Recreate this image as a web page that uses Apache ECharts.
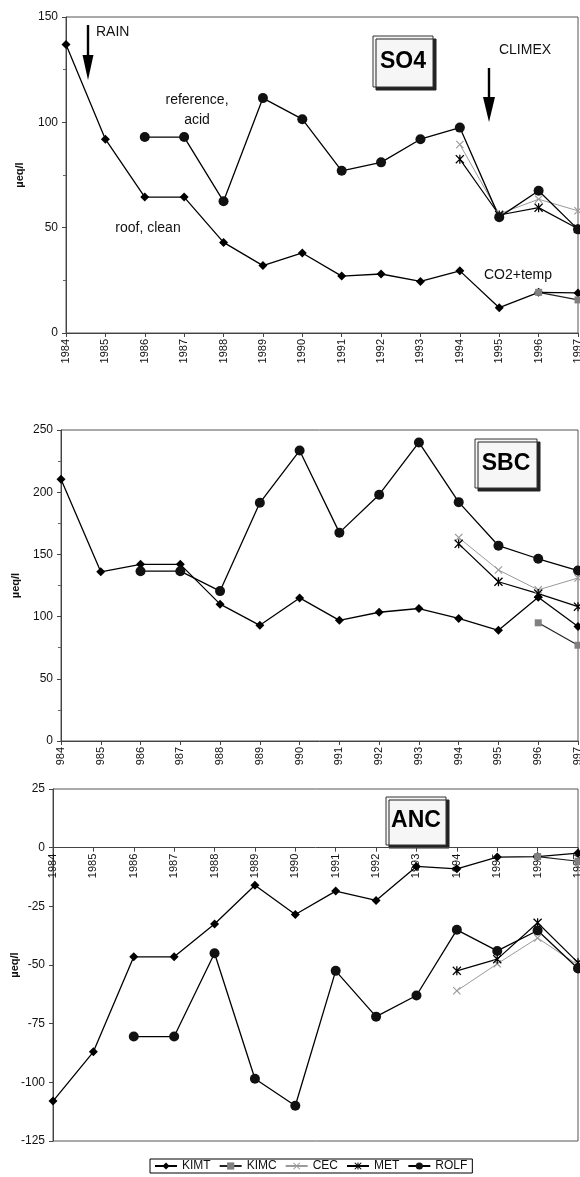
<!DOCTYPE html>
<html>
<head>
<meta charset="utf-8">
<script src="https://cdn.jsdelivr.net/npm/echarts@6/dist/echarts.min.js"></script>
<style>
  html, body { margin: 0; padding: 0; background: #fff; overflow: hidden; }
  #chart { width: 580px; height: 1177px; }
</style>
</head>
<body>
<div id="chart"></div>
<script>
// ---------- DATA ----------
var years = ['1984','1985','1986','1987','1988','1989','1990','1991','1992','1993','1994','1995','1996','1997'];
var sbcLabels = ['984','985','986','987','988','989','990','991','992','993','994','995','996','997'];
var seriesNames = ['KIMT','KIMC','CEC','MET','ROLF'];

var so4_KIMT = [137, 92, 64.5, 64.5, 43, 32, 38, 27, 28, 24.5, 29.5, 12, 19.3, 19];
var so4_KIMC = [null,null,null,null,null,null,null,null,null,null,null,null, 19.3, 15.7];
var so4_CEC  = [null,null,null,null,null,null,null,null,null,null, 89.5, 56.5, 63.5, 58];
var so4_MET  = [null,null,null,null,null,null,null,null,null,null, 82.5, 56, 59.5, 49.5];
var so4_ROLF = [null,null, 93, 93, 62.5, 111.5, 101.5, 77, 81, 92, 97.5, 55, 67.5, 49.2];

var sbc_KIMT = [210.5, 136, 142, 142, 110, 93, 115, 97, 103.5, 106.5, 98.5, 89, 115.5, 92];
var sbc_KIMC = [null,null,null,null,null,null,null,null,null,null,null,null, 95, 77];
var sbc_CEC  = [null,null,null,null,null,null,null,null,null,null, 163.5, 137.5, 121.5, 131];
var sbc_MET  = [null,null,null,null,null,null,null,null,null,null, 158.5, 128, 118.5, 108];
var sbc_ROLF = [null,null, 136.5, 136.5, 120.5, 191.5, 233.5, 167.5, 198, 240, 192, 157, 146.5, 137];

var anc_KIMT = [-108, -87, -46.5, -46.5, -32.5, -16, -28.5, -18.5, -22.5, -8, -9, -4, -3.8, -2.3];
var anc_KIMC = [null,null,null,null,null,null,null,null,null,null,null,null, -3.8, -5.8];
var anc_CEC  = [null,null,null,null,null,null,null,null,null,null, -61, -49.5, -38.5, -50];
var anc_MET  = [null,null,null,null,null,null,null,null,null,null, -52.5, -47.5, -32, -49];
var anc_ROLF = [null,null, -80.5, -80.5, -45, -98.5, -110, -52.5, -72, -63, -35, -44, -35.3, -51.5];

// ---------- STYLES ----------
var FONT = 'Liberation Sans';
var X_PATH = 'path://M0,1L1,0L5,4L9,0L10,1L6,5L10,9L9,10L5,6L1,10L0,9L4,5Z';
var AST_PATH = 'path://M0,1L1,0L5,4L9,0L10,1L6,5L10,9L9,10L5,6L1,10L0,9L4,5ZM4.3,0L5.7,0L5.7,10L4.3,10Z';
var styles = {
  KIMT: { symbol: 'diamond', symbolSize: 9, color: '#000', line: '#000', width: 1.3, type: 'solid' },
  KIMC: { symbol: 'rect', symbolSize: 7, color: '#808080', line: '#222', width: 1.2, type: 'solid' },
  CEC:  { symbol: X_PATH, symbolSize: 8, color: '#9a9a9a', line: '#9a9a9a', width: 1, type: 'solid' },
  MET:  { symbol: AST_PATH, symbolSize: 9, color: '#000', line: '#000', width: 1.2, type: 'solid' },
  ROLF: { symbol: 'circle', symbolSize: 10, color: '#111', line: '#000', width: 1.3, type: 'solid' }
};

function mk(name, data, idx) {
  var s = styles[name];
  return {
    name: name, type: 'line', xAxisIndex: idx, yAxisIndex: idx, data: data,
    symbol: s.symbol, symbolSize: s.symbolSize, showAllSymbol: true,
    itemStyle: { color: s.color },
    lineStyle: { color: s.line, width: s.width, type: s.type },
    connectNulls: false, animation: false, clip: false
  };
}

var panels = [
  { data: [so4_KIMT, so4_KIMC, so4_CEC, so4_MET, so4_ROLF] },
  { data: [sbc_KIMT, sbc_KIMC, sbc_CEC, sbc_MET, sbc_ROLF] },
  { data: [anc_KIMT, anc_KIMC, anc_CEC, anc_MET, anc_ROLF] }
];

var series = [];
panels.forEach(function (p, i) {
  seriesNames.forEach(function (n, k) { series.push(mk(n, p.data[k], i)); });
});

var grids = [
  { left: 66, right: 2, top: 17, height: 316 },
  { left: 61, right: 2, top: 430, height: 311 },
  { left: 53, right: 2, top: 789, height: 352 }
];
var yRanges = [[0, 150, 50], [0, 250, 50], [-125, 25, 25]];

var axisLineStyle = { color: '#444', width: 1 };
function xAx(idx, labels) {
  // place the category axis at value 0 of the panel's value axis
  var r = yRanges[idx];
  var zeroOffset = -grids[idx].height * (0 - r[0]) / (r[1] - r[0]);
  return {
    type: 'category', gridIndex: idx, data: labels, boundaryGap: false,
    position: 'bottom', offset: zeroOffset,
    axisLine: { onZero: false, lineStyle: axisLineStyle },
    axisTick: { show: true, alignWithLabel: true, length: 4, lineStyle: { color: '#444' } },
    axisLabel: { rotate: 90, fontSize: 11, fontFamily: FONT, color: '#111', margin: 6, interval: 0, hideOverlap: false },
    splitLine: { show: false }
  };
}
function yAx(idx, gap, minor) {
  var r = yRanges[idx];
  return {
    type: 'value', gridIndex: idx, min: r[0], max: r[1], interval: r[2],
    name: 'µeq/l', nameLocation: 'middle', nameGap: gap, nameRotate: 90, nameMoveOverlap: false,
    nameTextStyle: { fontSize: 11, fontWeight: 'bold', fontFamily: FONT, color: '#111' },
    axisLine: { show: true, lineStyle: axisLineStyle },
    axisTick: { show: true, length: 4, lineStyle: { color: '#444' } },
    minorTick: { show: minor, splitNumber: 2, length: 3, lineStyle: { color: '#666' } },
    axisLabel: { fontSize: 12, fontFamily: FONT, color: '#111', margin: 8 },
    splitLine: { show: false }
  };
}

function arrow(x, yTop, yHeadStart, yTip, halfW) {
  return {
    type: 'group', children: [
      { type: 'rect', shape: { x: x - 1.2, y: yTop, width: 2.4, height: yHeadStart - yTop + 2 }, style: { fill: '#000' } },
      { type: 'polygon', shape: { points: [[x - halfW, yHeadStart], [x + halfW, yHeadStart], [x, yTip]] }, style: { fill: '#000' } }
    ]
  };
}
function box(x, y, w, h, label) {
  return {
    type: 'group', children: [
      { type: 'rect', shape: { x: x, y: y, width: w, height: h },
        style: { fill: '#f6f6f6', stroke: '#333', lineWidth: 1, shadowColor: '#222', shadowOffsetX: 3, shadowOffsetY: 3, shadowBlur: 0 } },
      { type: 'text', x: x + w / 2, y: y + h / 2,
        style: { text: label, fill: '#000', font: 'bold 23px "Liberation Sans"', align: 'center', verticalAlign: 'middle' } }
    ]
  };
}
function txt(x, y, t, align) {
  return { type: 'text', x: x, y: y,
    style: { text: t, fill: '#111', font: '14px "Liberation Sans"', align: align || 'left', verticalAlign: 'middle' } };
}

var option = {
  backgroundColor: '#fff',
  animation: false,
  grid: grids.map(function (g) {
    return { left: g.left, right: g.right, top: g.top, height: g.height, show: true,
      borderColor: '#555', borderWidth: 1, backgroundColor: 'transparent',
      containLabel: false, outerBoundsMode: 'none' };
  }),
  xAxis: [xAx(0, years), xAx(1, sbcLabels), xAx(2, years)],
  yAxis: [yAx(0, 41, true), yAx(1, 40, true), yAx(2, 33, false)],
  legend: {
    data: seriesNames, left: 150, top: 1159, orient: 'horizontal',
    itemWidth: 22, itemHeight: 9, itemGap: 8,
    borderColor: '#000', borderWidth: 1, padding: [1, 5, 1, 4],
    textStyle: { fontSize: 12, fontFamily: FONT, color: '#111' }
  },
  graphic: [
    arrow(88, 25, 55, 80, 5.5),
    txt(96, 32, 'RAIN'),
    txt(197, 100, 'reference,', 'center'),
    txt(197, 120, 'acid', 'center'),
    txt(148, 228, 'roof, clean', 'center'),
    box(373, 36, 60, 51, 'SO4'),
    txt(525, 50, 'CLIMEX', 'center'),
    arrow(489, 68, 97, 122, 6),
    txt(518, 275, 'CO2+temp', 'center'),
    box(475, 439, 62, 49, 'SBC'),
    box(386, 797, 60, 48, 'ANC')
  ],
  series: series
};

var chart = echarts.init(document.getElementById('chart'), null, { renderer: 'canvas' });
chart.setOption(option);
</script>
</body>
</html>
